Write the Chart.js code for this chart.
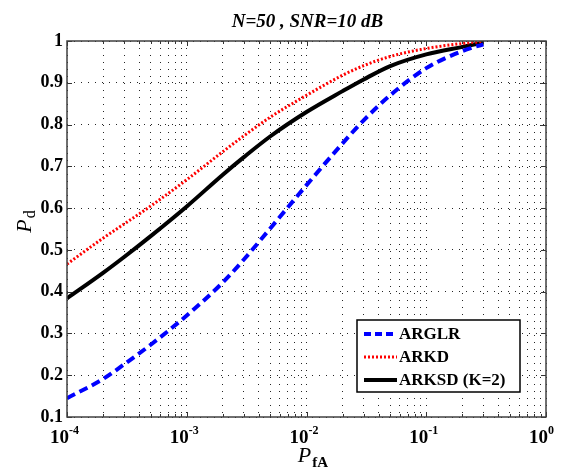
<!DOCTYPE html>
<html><head><meta charset="utf-8">
<script src="https://cdn.jsdelivr.net/npm/chart.js@4.4.1/dist/chart.umd.min.js"></script>
<style>html,body{margin:0;padding:0;background:#fff}#wrap{width:561px;height:469px;position:relative}</style>
</head><body><div id="wrap"><canvas id="c"></canvas></div>
<script>
// ---- data ----
const pfa   = [1e-4, 2e-4, 3e-4, 5e-4, 1e-3, 2e-3, 3e-3, 5e-3, 1e-2, 2e-2, 3e-2, 5e-2, 0.1, 0.2, 0.3];
const arglr = [0.145,0.191,0.226,0.273,0.343,0.422,0.477,0.552,0.655,0.755,0.810,0.870,0.935,0.976,0.992];
const arkd  = [0.466,0.528,0.562,0.605,0.668,0.735,0.773,0.818,0.870,0.918,0.941,0.963,0.982,0.994,0.999];
const arksd = [0.384,0.445,0.483,0.533,0.604,0.680,0.722,0.772,0.830,0.880,0.908,0.940,0.968,0.986,0.996];
const seriesNames = ['ARGLR', 'ARKD', 'ARKSD (K=2)'];
const yTicks = [0.1,0.2,0.3,0.4,0.5,0.6,0.7,0.8,0.9,1];
const xDecades = [1e-4,1e-3,1e-2,1e-1,1];
const xExponents = ['-4','-3','-2','-1','0'];
const titleText = 'N=50 , SNR=10 dB';
const yLabelMain = 'P', yLabelSub = 'd';
const xLabelMain = 'P', xLabelSub = 'fA';

const SERIF = '"Liberation Serif", "Times New Roman", serif';
const pts = arr => pfa.map((v,i)=>({x:v, y:arr[i]}));

const overlay = {
  id: 'overlay',
  afterDraw(chart) {
    const {ctx, chartArea: a, scales: {x, y}} = chart;
    ctx.save();
    // inner tick marks
    ctx.strokeStyle = '#333'; ctx.lineWidth = 1; ctx.setLineDash([]);
    ctx.beginPath();
    yTicks.forEach(v => {
      const py = Math.round(y.getPixelForValue(v)) + 0.5;
      ctx.moveTo(a.left, py); ctx.lineTo(a.left + 5, py);
      ctx.moveTo(a.right, py); ctx.lineTo(a.right - 5, py);
    });
    x.ticks.forEach(t => {
      const px = Math.round(x.getPixelForValue(t.value)) + 0.5;
      const isMajor = xDecades.some(d => Math.abs(d - t.value) / d < 1e-6);
      const L = isMajor ? 5 : 3;
      ctx.moveTo(px, a.bottom); ctx.lineTo(px, a.bottom - L);
      ctx.moveTo(px, a.top); ctx.lineTo(px, a.top + L);
    });
    ctx.stroke();
    // box
    ctx.strokeStyle = '#404040'; ctx.lineWidth = 1.5;
    ctx.strokeRect(a.left, a.top, a.right - a.left, a.bottom - a.top);

    // x tick labels with superscripts
    ctx.fillStyle = '#000'; ctx.textBaseline = 'alphabetic';
    xDecades.forEach((v, i) => {
      const px = x.getPixelForValue(v);
      ctx.font = 'bold 19px ' + SERIF; ctx.textAlign = 'right';
      ctx.fillText('10', px + 2, 443);
      ctx.font = 'bold 12px ' + SERIF; ctx.textAlign = 'left';
      ctx.fillText(xExponents[i], px + 2, 434);
    });

    // title
    ctx.font = 'italic bold 19px ' + SERIF; ctx.textAlign = 'center';
    ctx.fillText(titleText, (a.left + a.right) / 2 + 1, 27);

    // x axis label
    ctx.font = 'italic 22px ' + SERIF;
    const wP = ctx.measureText(xLabelMain).width;
    ctx.font = 'bold 15px ' + SERIF;
    const wS = ctx.measureText(xLabelSub).width;
    let sx = (a.left + a.right) / 2 - (wP + wS) / 2 + 6;
    ctx.textAlign = 'left';
    ctx.font = 'italic 22px ' + SERIF; ctx.fillText(xLabelMain, sx, 462);
    ctx.font = 'bold 15px ' + SERIF; ctx.fillText(xLabelSub, sx + wP + 1, 467);

    // y axis label (rotated)
    ctx.save();
    ctx.translate(31, 222);
    ctx.rotate(-Math.PI / 2);
    ctx.font = 'italic 22px ' + SERIF;
    const wPy = ctx.measureText(yLabelMain).width;
    ctx.font = '16px ' + SERIF;
    const wSy = ctx.measureText(yLabelSub).width;
    const sy = -(wPy + wSy) / 2;
    ctx.font = 'italic 22px ' + SERIF; ctx.fillText(yLabelMain, sy, 0);
    ctx.font = '16px ' + SERIF; ctx.fillText(yLabelSub, sy + wPy + 1, 4);
    ctx.restore();

    // legend
    const lx = 357, ly = 320, lw = 163, lh = 72;
    ctx.fillStyle = '#fff'; ctx.fillRect(lx, ly, lw, lh);
    ctx.strokeStyle = '#000'; ctx.lineWidth = 1.5; ctx.setLineDash([]);
    ctx.strokeRect(lx, ly, lw, lh);
    const rows = [334, 357, 380];
    chart.data.datasets.forEach((ds, i) => {
      const ry = rows[i];
      ctx.strokeStyle = ds.borderColor; ctx.lineWidth = ds.borderWidth;
      ctx.setLineDash(ds.legendDash || []);
      ctx.beginPath(); ctx.moveTo(364, ry); ctx.lineTo(397, ry); ctx.stroke();
      ctx.setLineDash([]);
      ctx.fillStyle = '#000'; ctx.font = 'bold 17px ' + SERIF; ctx.textAlign = 'left';
      ctx.textBaseline = 'middle';
      ctx.fillText(seriesNames[i], 399, ry + 1);
    });
    ctx.restore();
  }
};

new Chart(document.getElementById('c'), {
  type: 'line',
  data: {
    datasets: [
      {label: seriesNames[0], data: pts(arglr), borderColor: '#0000ff', borderWidth: 4,
       borderDash: [9, 5], legendDash: [7, 4], pointRadius: 0, cubicInterpolationMode: 'monotone', fill: false},
      {label: seriesNames[1], data: pts(arkd), borderColor: '#ff0000', borderWidth: 3,
       borderDash: [2, 2], legendDash: [2, 2], pointRadius: 0, cubicInterpolationMode: 'monotone', fill: false},
      {label: seriesNames[2], data: pts(arksd), borderColor: '#000000', borderWidth: 4,
       pointRadius: 0, cubicInterpolationMode: 'monotone', fill: false}
    ]
  },
  options: {
    responsive: true, maintainAspectRatio: false, animation: false,
    layout: {padding: {top: 41, right: 15, bottom: 0, left: 0}},
    plugins: {legend: {display: false}, title: {display: false}, tooltip: {enabled: false}},
    scales: {
      x: {
        type: 'logarithmic', min: 1e-4, max: 1,
        afterBuildTicks: s => {
          const t = [];
          for (let e = -4; e <= -1; e++) for (let k = 1; k <= 9; k++) t.push({value: k * Math.pow(10, e)});
          t.push({value: 1});
          s.ticks = t;
        },
        afterFit: s => { s.height = 52; },
        ticks: {display: false, autoSkip: false},
        grid: {color: 'rgba(0,0,0,0.85)', lineWidth: 1, drawTicks: false},
        border: {display: false, dash: [1, 6]}
      },
      y: {
        type: 'linear', min: 0.1, max: 1,
        afterBuildTicks: s => { s.ticks = yTicks.map(v => ({value: v})); },
        afterFit: s => { s.width = 67; },
        ticks: {
          color: '#000', padding: 4, autoSkip: false,
          font: {family: SERIF, size: 18, weight: 'bold'},
          callback: v => (Math.abs(v - 1) < 1e-9 ? '1' : Number(v).toFixed(1))
        },
        grid: {color: 'rgba(0,0,0,0.85)', lineWidth: 1, drawTicks: false},
        border: {display: false, dash: [1, 6]}
      }
    }
  },
  plugins: [overlay]
});
</script>
</body></html>
